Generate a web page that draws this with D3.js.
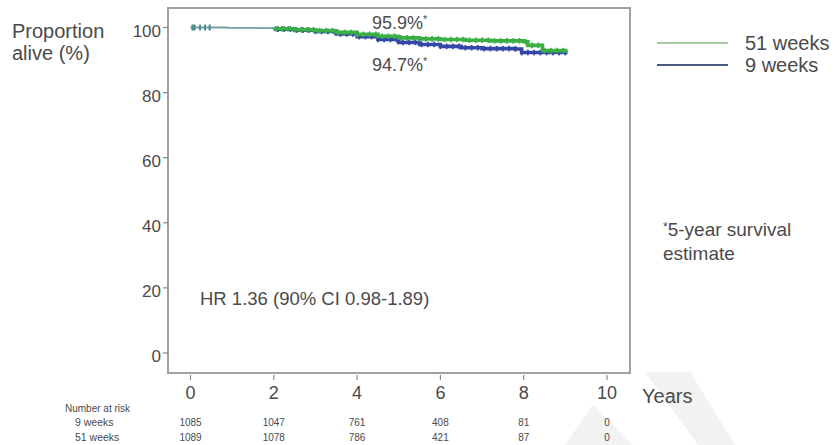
<!DOCTYPE html>
<html>
<head>
<meta charset="utf-8">
<script src="https://d3js.org/d3.v7.min.js"></script>
<style>
  body { margin: 0; background: #fff; }
  text { font-family: "Liberation Sans", Arial, sans-serif; fill: #4a4a4a; }
</style>
</head>
<body>
<script>
// survival steps [years, % alive]
var weeks51 = [[0,100],[0.9,99.9],[1.6,99.8],[2.0,99.6],[2.5,99.3],[3.0,99.0],[3.5,98.5],[4.0,97.9],
  [4.5,97.3],[5.0,96.8],[5.5,96.5],[6.0,96.3],[6.6,96.1],[7.2,95.9],[8.0,95.6],[8.1,94.5],[8.45,92.9],[9.05,92.9]];
var weeks9 = [[0,100],[0.9,99.9],[1.6,99.8],[2.0,99.5],[2.5,99.2],[3.0,98.8],[3.5,98.0],[4.0,97.2],
  [4.5,96.3],[5.0,95.4],[5.5,94.8],[6.0,94.2],[6.5,93.8],[7.0,93.5],[7.8,93.4],[7.95,92.3],[9.05,92.3]];
// censor marks (years)
var cens51 = [0.05,0.1,0.23,0.35,0.46,2.05,2.2,2.35,2.5,2.65,2.8,2.95,3.1,3.25,3.4,3.55,3.7,3.85,4.0,4.15,4.3,
  4.45,4.6,4.75,4.9,5.05,5.2,5.35,5.5,5.65,5.8,5.95,6.1,6.25,6.4,6.55,6.7,6.85,7.0,7.15,7.3,7.45,7.6,7.75,7.9,
  8.05,8.2,8.35,8.5,8.65,8.8,8.95];
var cens9 = [0.05,0.09,0.23,0.35,0.46,2.1,2.25,2.4,2.55,2.7,2.85,3.0,3.15,3.3,3.45,3.6,3.75,3.9,4.05,4.2,4.35,
  4.5,4.65,4.8,4.95,5.1,5.25,5.4,5.55,5.7,5.85,6.0,6.15,6.3,6.45,6.6,6.75,6.9,7.05,7.2,7.35,7.5,7.65,7.8,7.95,
  8.1,8.25,8.4,8.55,8.7,8.85,9.0];
var xTicks = [0,2,4,6,8,10];
var yTicks = [0,20,40,60,80,100];
var riskGroups = ["9 weeks","51 weeks"];
var risk9 = [1085,1047,761,408,81,0];
var risk51 = [1089,1078,786,421,87,0];

var W = 838, H = 445;
var svg = d3.select("body").append("svg").attr("width", W).attr("height", H);

// faint watermark
svg.append("path")
  .attr("d", "M645,372 L690,372 L735,445 L698,445 Z M565,445 L593,405 L633,445 Z")
  .attr("fill", "#f2f2f2");

var x = d3.scaleLinear().domain([0,10]).range([190.5,607]);
var y = d3.scaleLinear().domain([0,100]).range([353,27.5]);

var boxL = 168, boxR = 630, boxT = 8, boxB = 373;
svg.append("rect").attr("x", boxL).attr("y", boxT).attr("width", boxR-boxL).attr("height", boxB-boxT)
  .attr("fill", "none").attr("stroke", "#a0a0a0").attr("stroke-width", 2);

// y ticks
yTicks.forEach(function(v) {
  svg.append("line").attr("x1", boxL-5).attr("x2", boxL).attr("y1", y(v)).attr("y2", y(v))
    .attr("stroke", "#888").attr("stroke-width", 1.2);
  svg.append("text").attr("x", boxL-7).attr("y", y(v)+9).attr("text-anchor", "end")
    .attr("font-size", 17).text(v);
});
// x ticks
xTicks.forEach(function(v) {
  svg.append("line").attr("x1", x(v)).attr("x2", x(v)).attr("y1", boxB+2).attr("y2", boxB+7)
    .attr("stroke", "#888").attr("stroke-width", 1.2);
  svg.append("text").attr("x", x(v)).attr("y", 399).attr("text-anchor", "middle")
    .attr("font-size", 18).text(v);
});

svg.append("text").attr("x", 642).attr("y", 403).attr("font-size", 20).text("Years");
svg.append("text").attr("x", 12).attr("y", 38).attr("font-size", 20).text("Proportion");
svg.append("text").attr("x", 12).attr("y", 60).attr("font-size", 20).text("alive (%)");

var step = d3.line().curve(d3.curveStepAfter).x(function(d){return x(d[0]);}).y(function(d){return y(d[1]);});

function survAt(data, t) {
  var s = data[0][1];
  data.forEach(function(d){ if (d[0] <= t) s = d[1]; });
  return s;
}

function drawCurve(data, cens, col) {
  svg.append("path").attr("d", step(data)).attr("fill", "none")
    .attr("stroke", "#6f9c9c").attr("stroke-width", 1.3);
  svg.append("path").attr("d", step(data.filter(function(d){return d[0] >= 2;})))
    .attr("fill", "none").attr("stroke", col).attr("stroke-width", 3.6);
  cens.forEach(function(t) {
    var cy = y(survAt(data, t));
    svg.append("line").attr("x1", x(t)).attr("x2", x(t)).attr("y1", cy-2.8).attr("y2", cy+2.8)
      .attr("stroke", t < 2 ? "#4a8a8e" : col).attr("stroke-width", 1.8);
  });
}
drawCurve(weeks9, cens9, "#3446a8");
drawCurve(weeks51, cens51, "#3cae46");

function starLabel(tx, ty, main) {
  var t = svg.append("text").attr("x", tx).attr("y", ty).attr("font-size", 18);
  t.append("tspan").text(main);
  t.append("tspan").attr("font-size", 11).attr("dy", -6).text("*");
}
starLabel(372, 29, "95.9%");
starLabel(372, 71, "94.7%");
svg.append("text").attr("x", 200).attr("y", 305).attr("font-size", 18.5).text("HR 1.36 (90% CI 0.98-1.89)");
var note = svg.append("text").attr("x", 663).attr("y", 236).attr("font-size", 19);
note.append("tspan").attr("font-size", 12).attr("dy", -5).text("*");
note.append("tspan").attr("dy", 5).text("5-year survival");
svg.append("text").attr("x", 663).attr("y", 260).attr("font-size", 19).text("estimate");

// legend
var legend = [["51 weeks","#a9c9a2"],["9 weeks","#4a5a84"]];
legend.forEach(function(l, i) {
  var ly = 43 + i*22;
  svg.append("line").attr("x1", 657).attr("x2", 728).attr("y1", ly).attr("y2", ly)
    .attr("stroke", l[1]).attr("stroke-width", 2.2);
  svg.append("text").attr("x", 745).attr("y", ly+7).attr("font-size", 20).text(l[0]);
});

// number at risk
svg.append("text").attr("x", 65).attr("y", 412).attr("font-size", 10).attr("fill", "#666").text("Number at risk");
[risk9, risk51].forEach(function(row, i) {
  var ry = 426 + i*15;
  svg.append("text").attr("x", 75).attr("y", ry).attr("font-size", 10.5).attr("fill", "#666").text(riskGroups[i]);
  row.forEach(function(n, j) {
    svg.append("text").attr("x", x(xTicks[j])).attr("y", ry).attr("text-anchor", "middle")
      .attr("font-size", 10).attr("fill", "#666").text(n);
  });
});
</script>
</body>
</html>
